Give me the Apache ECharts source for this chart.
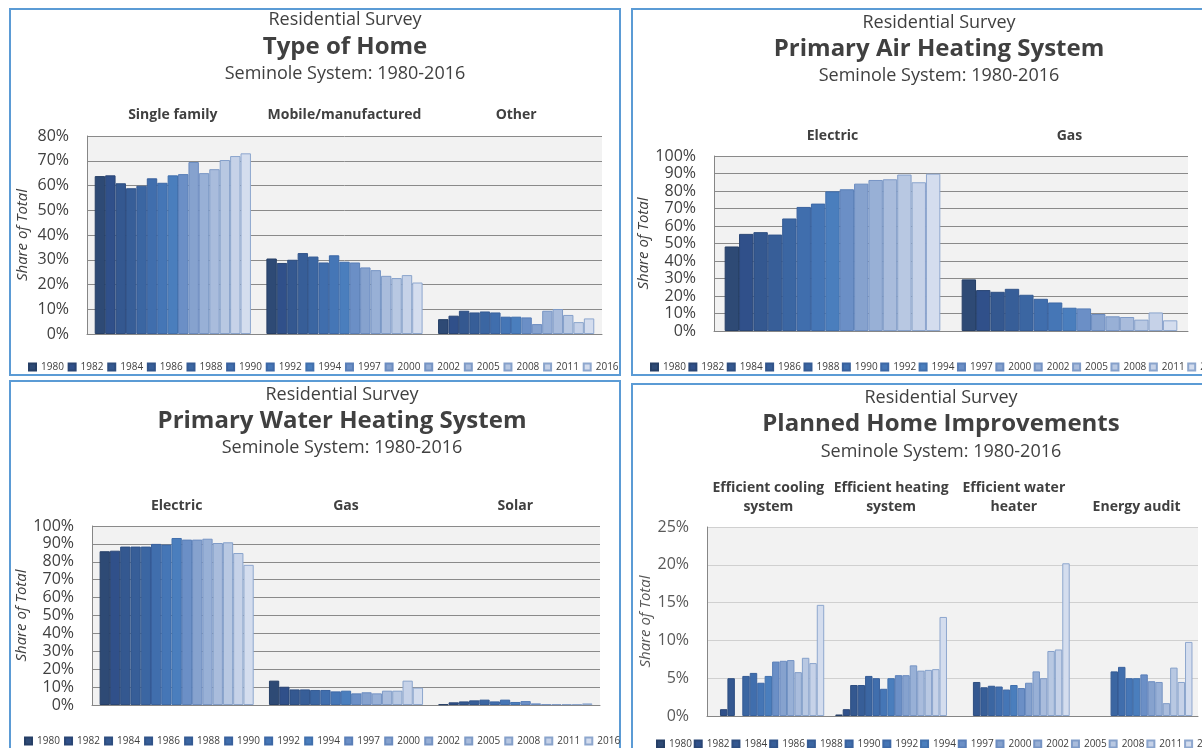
<!DOCTYPE html>
<html><head><meta charset="utf-8">
<script src="https://cdn.jsdelivr.net/npm/echarts@6/dist/echarts.min.js"></script>
<style>html,body{margin:0;padding:0;background:#fff;overflow:hidden}#c{width:1202px;height:748px}</style>
</head><body><div id="c"></div>
<script>
// ---------- DATA ----------
const years = ['1980','1982','1984','1986','1988','1990','1992','1994','1997','2000','2002','2005','2008','2011','2016'];

// Type of Home (% share)
const homeCategories = ['Single family','Mobile/manufactured','Other'];
const singleFamily = [63.8,64.1,60.9,58.9,59.9,62.9,61.1,64.1,64.6,69.5,65.0,66.6,70.3,71.9,73.0];
const mobileHome   = [30.5,28.7,30.0,32.7,31.3,28.9,31.8,29.2,28.9,26.9,25.8,23.5,22.6,23.8,20.8];
const otherHome    = [6.0,7.4,9.4,8.7,9.1,8.7,7.0,7.0,6.7,4.0,9.4,10.1,7.7,4.8,6.3];

// Primary Air Heating System
const airCategories = ['Electric','Gas'];
const airElectric = [48.3,55.5,56.5,55.1,64.3,70.9,72.8,79.8,81.0,84.2,86.3,86.7,89.4,85.0,89.9];
const airGas      = [29.5,23.4,22.4,24.1,20.7,18.4,16.3,13.3,12.9,9.7,8.4,8.0,6.5,10.6,6.1];

// Primary Water Heating System
const waterCategories = ['Electric','Gas','Solar'];
const waterElectric = [85.9,86.2,88.5,88.5,88.5,90.0,89.6,93.3,92.4,92.4,92.9,90.5,90.9,84.9,78.3];
const waterGas      = [13.6,10.2,8.7,8.7,8.4,8.4,7.6,8.0,6.5,7.1,6.5,8.0,8.0,13.6,9.7];
const waterSolar    = [0.4,1.5,2.0,2.6,3.0,2.0,3.0,1.7,2.2,0.9,0.5,0.5,0.5,0.5,0.9];

// Planned Home Improvements (null = not surveyed)
const improveCategories = ['Efficient cooling\nsystem','Efficient heating\nsystem','Efficient water\nheater','Energy audit'];
const effCooling = [null,0.9,5.0,null,5.3,5.7,4.4,5.3,7.2,7.3,7.4,5.8,7.7,7.0,14.7];
const effHeating = [0.2,0.9,4.1,4.1,5.3,5.0,3.6,5.0,5.4,5.4,6.7,6.0,6.1,6.2,13.1];
const effWater   = [null,null,4.5,3.8,4.0,3.9,3.5,4.1,3.7,4.4,5.9,5.0,8.6,8.8,20.2];
const energyAudit= [null,null,null,null,5.9,6.5,5.0,5.0,5.5,4.6,4.5,1.7,6.4,4.5,9.8];

const surveyLine = 'Residential Survey';
const systemLine = 'Seminole System: 1980-2016';
const yName = 'Share of Total';

// ---------- STYLE ----------
const fills = ['#2e4a75','#30508a','#345890','#375e98','#3b66a2','#406ead','#4576b6','#4a7ebd','#6b8fc6','#86a2ce','#98b0d6','#a9bcdc','#b8c8e2','#c6d2e8','#d4ddee'];
const edges = ['#263f66','#2a4675','#2e4e80','#31548a','#355b94','#39619d','#3d68a6','#4170ad','#5a7fb8','#6b8cc0','#7694c4','#7f9bc7','#85a0ca','#8aa4cc','#8ea7ce'];
const FONT = "'Open Sans', 'Liberation Sans', sans-serif";
const TXT = '#404040';

const panels = [
  {title:'Type of Home', cats:homeCategories, rows:[singleFamily,mobileHome,otherHome], max:80, interval:10,
   grid:{left:87, top:136, width:515, height:198}, tx:345, ty:[19.5,47.5,73.5], box:[10,9,610,366],
   nameGap:57, legend:{left:28, top:362, itemGap:3.75}, catMargin:11, split:'#8a8a8a', lab:TXT},
  {title:'Primary Air Heating System', cats:airCategories, rows:[airElectric,airGas], max:100, interval:10,
   grid:{left:714, top:156, width:474, height:175}, tx:939, ty:[22.5,49.5,75.5], box:[632,9,640,366],
   nameGap:58, legend:{left:650, top:362, itemGap:2.5}, catMargin:10, split:'#8a8a8a', lab:TXT},
  {title:'Primary Water Heating System', cats:waterCategories, rows:[waterElectric,waterGas,waterSolar], max:100, interval:10,
   grid:{left:92, top:526, width:508, height:179}, tx:342, ty:[394.5,421.5,447.5], box:[10,381,610,380],
   nameGap:62, legend:{left:24, top:736, itemGap:4.15}, catMargin:10, split:'#8a8a8a', lab:TXT},
  {title:'Planned Home Improvements', cats:improveCategories, rows:[effCooling,effHeating,effWater,energyAudit], max:25, interval:5,
   grid:{left:707, top:527, width:491, height:189}, tx:941, ty:[397.5,424.5,451.5], box:[632,384,640,380],
   nameGap:54, legend:{left:656, top:739, itemGap:1.85}, catMargin:10, split:'#d0d0d0', lab:'#595959'}
];

const option = {animation:false, backgroundColor:'#fff', textStyle:{fontFamily:FONT},
  grid:[], xAxis:[], yAxis:[], series:[], legend:[], graphic:[]};

panels.forEach((p, pi) => {
  option.grid.push(Object.assign({show:true, backgroundColor:'#f2f2f2', borderWidth:0}, p.grid));
  // bottom axis (line only)
  option.xAxis.push({type:'category', gridIndex:pi, data:p.cats, position:'bottom',
    axisLine:{show:true, lineStyle:{color:'#868686'}}, axisTick:{show:false}, axisLabel:{show:false}});
  // top axis (category labels)
  option.xAxis.push({type:'category', gridIndex:pi, data:p.cats, position:'top',
    axisLine:{show:false}, axisTick:{show:false},
    axisLabel:{show:true, interval:0, margin:p.catMargin, fontSize:14, fontWeight:'bold', color:TXT, lineHeight:19, fontFamily:FONT}});
  option.yAxis.push({type:'value', gridIndex:pi, min:0, max:p.max, interval:p.interval,
    axisLine:{show:true, lineStyle:{color:'#868686'}}, axisTick:{show:false},
    axisLabel:{formatter:'{value}%', fontSize:16, color:p.lab, margin:18, fontFamily:FONT},
    splitLine:{show:true, lineStyle:{color:p.split, width:1}},
    name:yName, nameLocation:'middle', nameRotate:90, nameGap:p.nameGap,
    nameTextStyle:{fontStyle:'italic', fontSize:15, color:p.lab, fontFamily:FONT}});
  years.forEach((y, i) => {
    option.series.push({type:'bar', name:y, xAxisIndex:pi*2, yAxisIndex:pi,
      data:p.rows.map(r => r[i]), barGap:'0%', barCategoryGap:'9%',
      itemStyle:{color:fills[i], borderColor:edges[i], borderWidth:1}});
  });
  option.legend.push({data:years, left:p.legend.left, top:p.legend.top, width:900, orient:'horizontal',
    itemWidth:7, itemHeight:7, itemGap:p.legend.itemGap, icon:'rect', padding:0,
    textStyle:{fontSize:10, color:TXT, fontFamily:FONT}});
  const b = p.box;
  option.graphic.push({type:'rect', z:-1, shape:{x:b[0], y:b[1], width:b[2], height:b[3]},
    style:{fill:'none', stroke:'#5b9bd5', lineWidth:2}, silent:true});
  const lines = [[surveyLine,18,'normal'],[p.title,24,'bold'],[systemLine,18,'normal']];
  lines.forEach((l, k) => {
    option.graphic.push({type:'text', x:p.tx, y:p.ty[k], silent:true,
      style:{text:l[0], fontSize:l[1], fontWeight:l[2], fontFamily:FONT, fill:TXT, align:'center', verticalAlign:'middle'}});
  });
});

const chart = echarts.init(document.getElementById('c'), null, {renderer:'canvas'});
chart.setOption(option);
</script></body></html>
